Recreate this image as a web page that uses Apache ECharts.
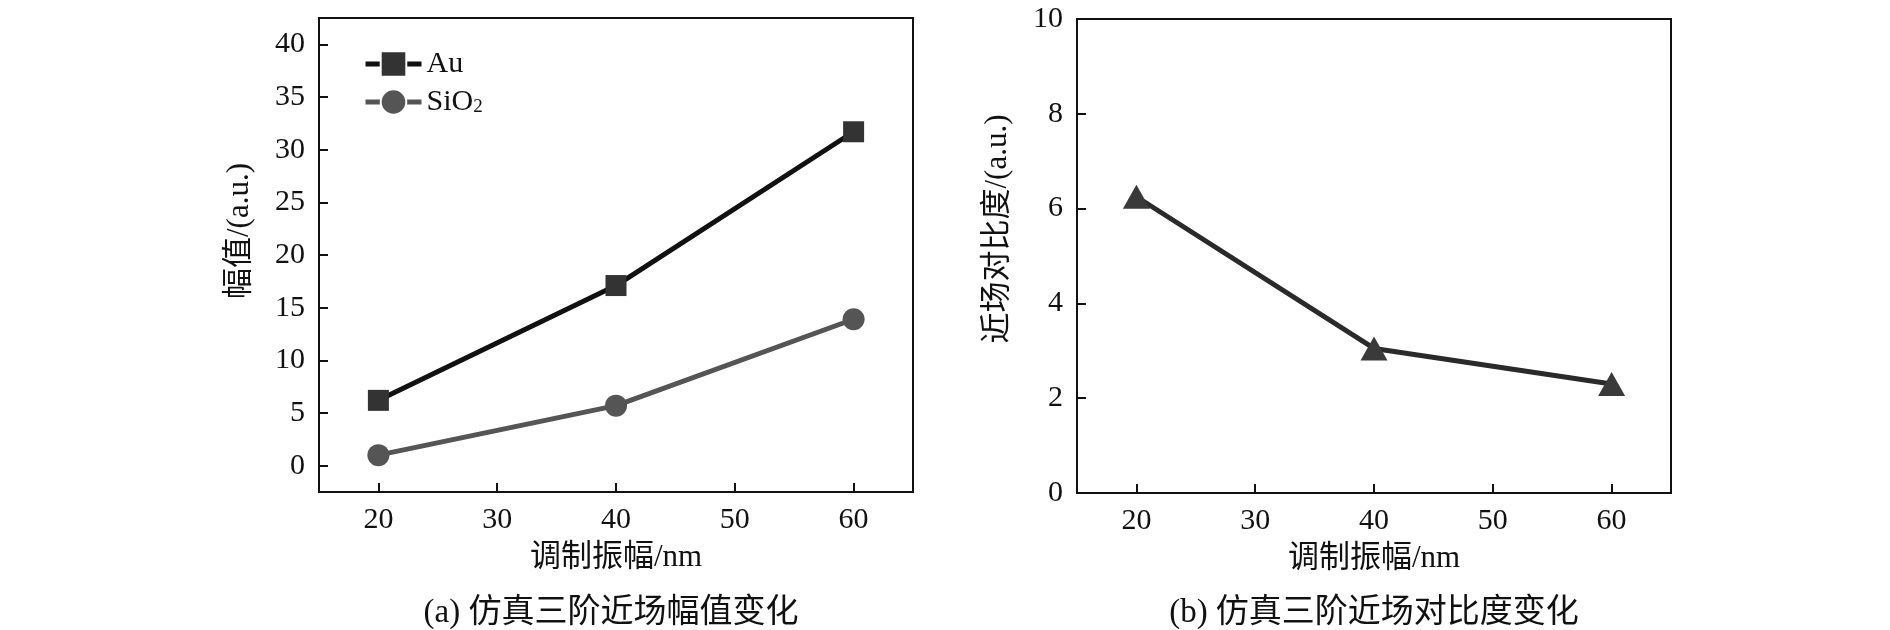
<!DOCTYPE html>
<html>
<head>
<meta charset="utf-8">
<script src="https://cdn.jsdelivr.net/npm/echarts@6/dist/echarts.min.js"></script>
<style>
  html, body { margin: 0; padding: 0; background: #fff; }
  #chart { width: 1890px; height: 630px; }
</style>
</head>
<body>
<div id="chart"></div>
<script>
// modulation amplitude (nm)
var amplitude = [20, 40, 60];
// (a) third-order near-field amplitude
var auValues = [6.2, 17.1, 31.7];
var sio2Values = [1.0, 5.7, 13.9];
// (b) third-order near-field contrast
var contrastValues = [6.25, 3.05, 2.3];

var xTicks = [20, 30, 40, 50, 60];
var leftYTicks = [0, 5, 10, 15, 20, 25, 30, 35, 40];

var xName = '调制振幅/nm';
var leftYName = '幅值/(a.u.)';
var rightYName = '近场对比度/(a.u.)';
var captionA = '(a) 仿真三阶近场幅值变化';
var captionB = '(b) 仿真三阶近场对比度变化';

var FONT = "'Liberation Serif', 'Noto Sans CJK SC', serif";

function pairs(xs, ys) {
    return xs.map(function (x, i) { return [x, ys[i]]; });
}

var axisLine = { onZero: false, lineStyle: { color: '#111', width: 2 } };
var axisTick = { inside: true, length: 9, lineStyle: { color: '#111', width: 2 } };
var tickLabel = { color: '#111', fontSize: 30, fontFamily: FONT };
var nameStyle = { color: '#111', fontSize: 31, fontFamily: FONT };

function xAxisFor(gridIndex) {
    return {
        type: 'value', gridIndex: gridIndex, min: 15, max: 65,
        name: xName, nameLocation: 'middle', nameGap: 50, nameTextStyle: nameStyle,
        axisLine: axisLine,
        axisTick: Object.assign({ customValues: xTicks }, axisTick),
        axisLabel: Object.assign({ customValues: xTicks, margin: 13 }, tickLabel),
        splitLine: { show: false }
    };
}

var chart = echarts.init(document.getElementById('chart'));

var option = {
    backgroundColor: '#fff',
    animation: false,
    grid: [
        { left: 319, right: 977, top: 18, bottom: 138, show: true, borderColor: '#111', borderWidth: 2 },
        { left: 1077, right: 219, top: 19, bottom: 137, show: true, borderColor: '#111', borderWidth: 2 }
    ],
    xAxis: [xAxisFor(0), xAxisFor(1)],
    yAxis: [
        {
            type: 'value', gridIndex: 0, min: -2.5, max: 42.5,
            name: leftYName, nameLocation: 'middle', nameGap: 64, nameRotate: 90,
            nameTextStyle: Object.assign({ padding: [0, 0, 0, 48] }, nameStyle),
            axisLine: axisLine,
            axisTick: Object.assign({ customValues: leftYTicks }, axisTick),
            axisLabel: Object.assign({ customValues: leftYTicks, margin: 14 }, tickLabel),
            splitLine: { show: false }
        },
        {
            type: 'value', gridIndex: 1, min: 0, max: 10, interval: 2,
            name: rightYName, nameLocation: 'middle', nameGap: 64, nameRotate: 90,
            nameTextStyle: Object.assign({ padding: [0, 0, 0, 54] }, nameStyle),
            axisLine: axisLine,
            axisTick: axisTick,
            axisLabel: Object.assign({ margin: 14 }, tickLabel),
            splitLine: { show: false }
        }
    ],
    legend: {
        left: 358, top: 44, orient: 'vertical', itemGap: 8,
        itemWidth: 56, itemHeight: 32,
        data: ['Au', 'SiO2'],
        lineStyle: { width: 5 },
        itemStyle: { borderColor: '#fff', borderWidth: 2 },
        formatter: function (name) {
            return name === 'SiO2' ? '{n|SiO}{s|2}' : '{n|' + name + '}';
        },
        textStyle: {
            color: '#111', fontFamily: FONT,
            rich: {
                n: { fontSize: 30, fontFamily: FONT, color: '#111', lineHeight: 30 },
                s: { fontSize: 19, fontFamily: FONT, color: '#111', lineHeight: 30, verticalAlign: 'bottom', padding: [10, 0, 0, 0] }
            }
        }
    },
    series: [
        {
            name: 'Au', type: 'line', xAxisIndex: 0, yAxisIndex: 0,
            data: pairs(amplitude, auValues),
            symbol: 'rect', symbolSize: 21,
            lineStyle: { color: '#111', width: 5 },
            itemStyle: { color: '#333' }
        },
        {
            name: 'SiO2', type: 'line', xAxisIndex: 0, yAxisIndex: 0,
            data: pairs(amplitude, sio2Values),
            symbol: 'circle', symbolSize: 22,
            lineStyle: { color: '#555', width: 5 },
            itemStyle: { color: '#555' }
        },
        {
            name: 'contrast', type: 'line', xAxisIndex: 1, yAxisIndex: 1,
            data: pairs(amplitude, contrastValues),
            symbol: 'triangle', symbolSize: [27, 24],
            lineStyle: { color: '#2a2a2a', width: 5 },
            itemStyle: { color: '#3a3a3a' }
        }
    ],
    graphic: [
        {
            type: 'text', x: 611, y: 613,
            style: { text: captionA, fontSize: 33, fontFamily: FONT, fill: '#111', textAlign: 'center', textVerticalAlign: 'middle' }
        },
        {
            type: 'text', x: 1374, y: 613,
            style: { text: captionB, fontSize: 33, fontFamily: FONT, fill: '#111', textAlign: 'center', textVerticalAlign: 'middle' }
        }
    ]
};

chart.setOption(option);
</script>
</body>
</html>
